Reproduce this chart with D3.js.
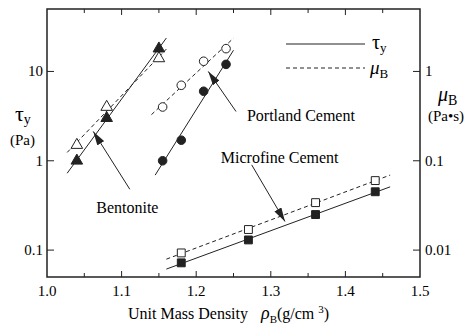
<!DOCTYPE html>
<html>
<head>
<meta charset="utf-8">
<script src="https://cdn.jsdelivr.net/npm/d3@7"></script>
</head>
<body>
<svg id="chart" width="470" height="329" font-family="Liberation Serif" style="position:absolute;left:0;top:0"></svg>
<script>
const bentoniteX = [1.04, 1.08, 1.15]
const bentoniteTau = [1.0, 3.0, 18]
const bentoniteMu = [0.15, 0.4, 1.4]
const bentoniteRange = [1.027, 1.16]

const portlandX = [1.155, 1.18, 1.21, 1.24]
const portlandTau = [1.0, 1.7, 6.0, 12]
const portlandMu = [0.4, 0.7, 1.3, 1.8]
const portlandTauRange = [1.145, 1.25]
const portlandMuRange = [1.14, 1.25]

const microX = [1.18, 1.27, 1.36, 1.44]
const microTau = [0.072, 0.13, 0.25, 0.45]
const microMu = [0.0093, 0.017, 0.034, 0.06]
const microRange = [1.16, 1.46]

const xTicks = [1.0, 1.1, 1.2, 1.3, 1.4, 1.5]
const xMinorTicks = [1.05, 1.15, 1.25, 1.35, 1.45]
const tauTicks = [0.1, 1, 10]
const muTicks = [0.01, 0.1, 1]

const ink = "#222"
const svg = d3.select("#chart")

const x = d3.scaleLinear([1.0, 1.5], [47, 420])
const yTau = d3.scaleLog([0.05, 50], [277, 9])
const yMu = d3.scaleLog([0.005, 5], [277, 9])

// every text gets its font set inline, as attribute and as style
function label(parent, px, py, size) {
  return parent.append("text").attr("x", px).attr("y", py)
    .attr("font-family", "Liberation Serif").attr("font-size", size)
    .style("font-family", "'Liberation Serif'").style("font-size", size + "px")
}
function sub(parent, size) {
  return parent.append("tspan").attr("font-size", size).style("font-size", size + "px")
}

// log-linear least squares fit, evaluated at the ends of the range
function fit(xs, ys, range) {
  const ly = ys.map(v => Math.log10(v))
  const mx = d3.mean(xs), my = d3.mean(ly)
  const b = d3.sum(xs, (v, i) => (v - mx) * (ly[i] - my)) / d3.sum(xs, v => (v - mx) ** 2)
  const a = my - b * mx
  return range.map(v => [v, Math.pow(10, a + b * v)])
}

// frame
svg.append("rect")
  .attr("x", x(1.0)).attr("y", yTau(50))
  .attr("width", x(1.5) - x(1.0)).attr("height", yTau(0.05) - yTau(50))
  .attr("fill", "none").attr("stroke", ink).attr("stroke-width", 1.5)

// ticks, all pointing inward
const tickG = svg.append("g").attr("stroke", ink).attr("stroke-width", 1)
const allX = xTicks.slice(1, -1).map(v => [v, 6]).concat(xMinorTicks.map(v => [v, 4]))
allX.forEach(([v, len]) => {
  tickG.append("line").attr("x1", x(v)).attr("x2", x(v)).attr("y1", yTau(0.05)).attr("y2", yTau(0.05) - len)
  tickG.append("line").attr("x1", x(v)).attr("x2", x(v)).attr("y1", yTau(50)).attr("y2", yTau(50) + len)
})
tauTicks.forEach(v => {
  tickG.append("line").attr("x1", x(1.0)).attr("x2", x(1.0) + 7).attr("y1", yTau(v)).attr("y2", yTau(v))
})
muTicks.forEach(v => {
  tickG.append("line").attr("x1", x(1.5)).attr("x2", x(1.5) - 7).attr("y1", yMu(v)).attr("y2", yMu(v))
})

// tick labels
const tl = svg.append("g")
xTicks.forEach(v => label(tl, x(v), 296, 15).attr("text-anchor", "middle").text(v.toFixed(1)))
tauTicks.forEach(v => label(tl, 43, yTau(v) + 5, 15).attr("text-anchor", "end").text(d3.format("~g")(v)))
muTicks.forEach(v => label(tl, 425, yMu(v) + 5, 15).text(d3.format("~g")(v)))

// axis titles
const xt = label(svg, 128, 319, 16)
xt.append("tspan").text("Unit Mass Density")
sub(xt, 18).attr("x", 261).style("font-style", "italic").text("ρ")
sub(xt, 11).attr("dy", 4).text("B")
xt.append("tspan").attr("dy", -4).text("(g/cm  ")
sub(xt, 11).attr("dy", -6).text("3")
xt.append("tspan").attr("dy", 6).text(")")

const lt = label(svg, 15, 121, 22)
lt.append("tspan").text("τ")
sub(lt, 14).attr("dy", 3).text("y")
label(svg, 10, 145, 15).text("(Pa)")

const rt = label(svg, 438, 101, 20)
rt.append("tspan").style("font-style", "italic").text("μ")
sub(rt, 14).attr("dy", 4).text("B")
label(svg, 428, 121, 15).text("(Pa•s)")

// fit lines
const line = (ys) => d3.line().x(d => x(d[0])).y(d => ys(d[1]))
const fits = [
  [fit(bentoniteX, bentoniteTau, bentoniteRange), yTau, null],
  [fit(bentoniteX, bentoniteMu, bentoniteRange), yMu, "4,3"],
  [fit(portlandX, portlandTau, portlandTauRange), yTau, null],
  [fit(portlandX, portlandMu, portlandMuRange), yMu, "4,3"],
  [fit(microX, microTau, microRange), yTau, null],
  [fit(microX, microMu, microRange), yMu, "4,3"]
]
svg.append("g").selectAll("path").data(fits).join("path")
  .attr("d", d => line(d[1])(d[0]))
  .attr("fill", "none").attr("stroke", ink).attr("stroke-width", 1)
  .attr("stroke-dasharray", d => d[2])

// points
function points(xs, ys, scale, type, filled) {
  const size = type === d3.symbolSquare ? 62 : 58
  svg.append("g").selectAll("path").data(xs).join("path")
    .attr("transform", (d, i) => `translate(${x(d)},${scale(ys[i])})`)
    .attr("d", d3.symbol(type, size)())
    .attr("fill", filled ? ink : "#fff").attr("stroke", ink).attr("stroke-width", 1)
}
points(bentoniteX, bentoniteMu, yMu, d3.symbolTriangle, false)
points(bentoniteX, bentoniteTau, yTau, d3.symbolTriangle, true)
points(portlandX, portlandMu, yMu, d3.symbolCircle, false)
points(portlandX, portlandTau, yTau, d3.symbolCircle, true)
points(microX, microMu, yMu, d3.symbolSquare, false)
points(microX, microTau, yTau, d3.symbolSquare, true)

// annotations: label and arrow, in data units of the left axis
svg.append("defs").append("marker")
  .attr("id", "head").attr("viewBox", "0 0 14 8").attr("refX", 14).attr("refY", 4)
  .attr("markerWidth", 14).attr("markerHeight", 8).attr("markerUnits", "userSpaceOnUse")
  .attr("orient", "auto")
  .append("path").attr("d", "M0,0L14,4L0,8Z").attr("fill", ink)

const notes = [
  { text: "Bentonite", lx: 1.066, ly: 0.30, from: [1.111, 0.48], to: [1.062, 2.13] },
  { text: "Portland Cement", lx: 1.268, ly: 3.27, from: [1.2534, 3.56], to: [1.2162, 10] },
  { text: "Microfine Cement", lx: 1.233, ly: 1.11, from: [1.2744, 0.9], to: [1.319, 0.209] }
]
svg.append("g").selectAll("line").data(notes).join("line")
  .attr("x1", d => x(d.from[0])).attr("y1", d => yTau(d.from[1]))
  .attr("x2", d => x(d.to[0])).attr("y2", d => yTau(d.to[1]))
  .attr("stroke", ink).attr("stroke-width", 1).attr("marker-end", "url(#head)")
notes.forEach(d => label(svg, x(d.lx), yTau(d.ly) + 6, 16).text(d.text))

// legend
const legend = svg.append("g")
legend.append("line").attr("x1", 286).attr("x2", 365).attr("y1", 44).attr("y2", 44)
  .attr("stroke", ink).attr("stroke-width", 1)
legend.append("line").attr("x1", 286).attr("x2", 365).attr("y1", 68).attr("y2", 68)
  .attr("stroke", ink).attr("stroke-width", 1).attr("stroke-dasharray", "4,3")
const l1 = label(legend, 372, 49, 20)
l1.append("tspan").text("τ")
sub(l1, 13).attr("dy", 3).text("y")
const l2 = label(legend, 370, 74, 19)
l2.append("tspan").style("font-style", "italic").text("μ")
sub(l2, 13).attr("dy", 4).text("B")
</script>
</body>
</html>
